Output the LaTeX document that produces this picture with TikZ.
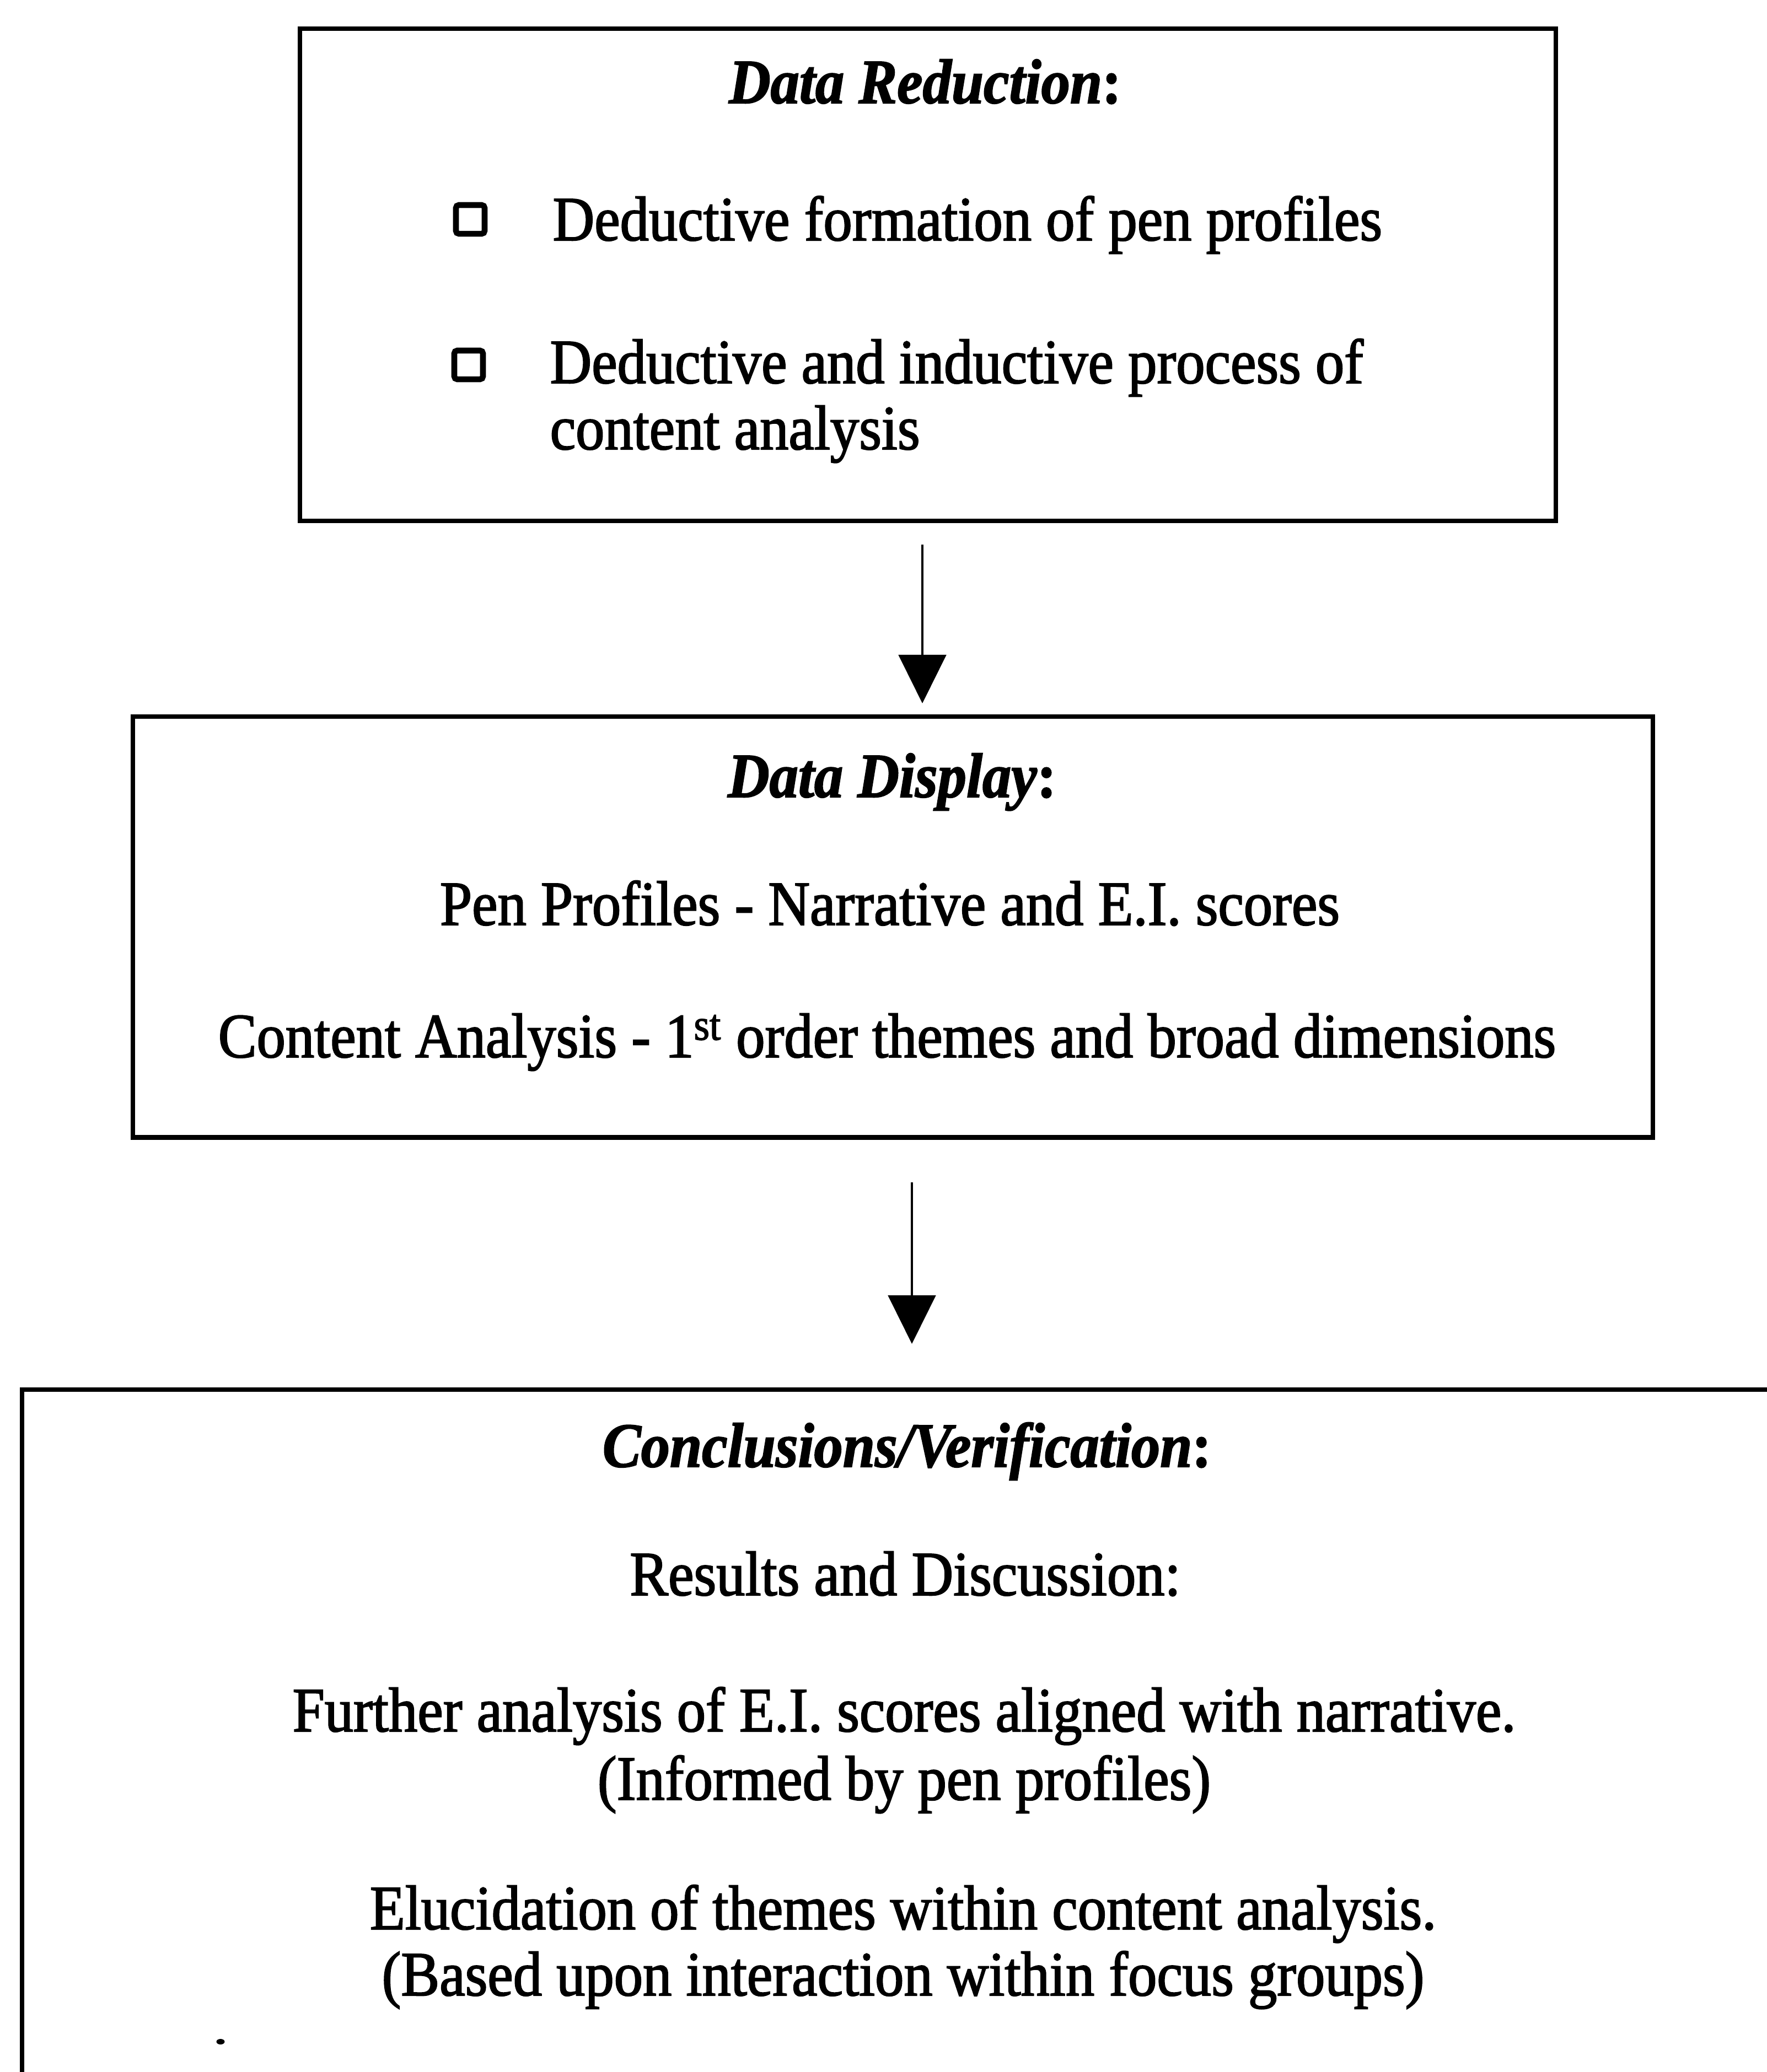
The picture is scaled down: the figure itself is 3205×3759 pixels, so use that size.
\documentclass[tikz,border=0pt]{standalone}
\usepackage{fontspec}
\setmainfont{Liberation Serif}[FakeStretch=0.915, FakeBold=1.8]
\usetikzlibrary{arrows.meta,shapes.geometric}

\tikzset{
  stagebox/.style={draw, line width=2.3pt, inner sep=0pt, anchor=north west},
  txt/.style={inner sep=0pt, anchor=base, font=\fontsize{32.5}{34}\selectfont},
  ltxt/.style={txt, anchor=base west},
  heading/.style={txt, font=\fontsize{32.5}{34}\selectfont\bfseries\itshape},
  tick/.style={draw, line width=3pt, rounded corners=1.5pt, minimum size=0.52cm, inner sep=0pt},
  flow/.style={line width=1.4pt, -{Triangle[width=0.86cm, length=0.88cm]}}
}

\begin{document}
\begin{tikzpicture}[x=0.01cm, y=-0.01cm]
\useasboundingbox (0,0) rectangle (3205,3759);
\clip (0,0) rectangle (3205,3759);
\fill[white] (0,0) rectangle (3205,3759);

% stage 1: data reduction
\node[stagebox, minimum width=22.77cm, minimum height=8.92cm] (red) at (540,48) {};
\node[heading] (redT) at (1678,187) {Data Reduction\textup{:}};
\node[tick] (sq1) at (853,398) {};
\node[ltxt] (red1) at (1002,436) {Deductive formation of pen profiles};
\node[tick] (sq2) at (850,662) {};
\node[ltxt] (red2a) at (997,695) {Deductive and inductive process of};
\node[ltxt] (red2b) at (997,815) {content analysis};

% stage 2: data display
\node[stagebox, minimum width=27.55cm, minimum height=7.63cm] (disp) at (237,1296) {};
\node[heading] (dispT) at (1618,1446) {Data Display\textup{:}};
\node[txt] (disp1) at (1614,1678) {Pen Profiles - Narrative and E.I. scores};
\node[txt] (disp2) at (1609,1918) {Content Analysis - 1\textsuperscript{st} order themes and broad dimensions};

% stage 3: conclusions (runs past the page edge)
\node[stagebox, minimum width=32.64cm, minimum height=14cm] (conc) at (36,2517) {};
\node[heading] (concT) at (1645,2661) {Conclusions/Verification\textup{:}};
\node[txt] (conc1) at (1642,2894) {Results and Discussion:};
\node[txt] (conc2a) at (1640,3141) {Further analysis of E.I. scores aligned with narrative.};
\node[txt] (conc2b) at (1640,3265) {(Informed by pen profiles)};
\node[txt] (conc3a) at (1638,3500) {Elucidation of themes within content analysis.};
\node[txt] (conc3b) at (1638,3620) {(Based upon interaction within focus groups)};
\node[ellipse, fill, inner sep=0pt, minimum width=0.15cm, minimum height=0.1cm] (speck) at (400,3704) {};

% connectors
\coordinate (f1s) at (1673,988);
\coordinate (f1e) at (1673,1276);
\coordinate (f2s) at (1654,2145);
\coordinate (f2e) at (1654,2438);
\draw[flow] (f1s) -- (f1e);
\draw[flow] (f2s) -- (f2e);
\end{tikzpicture}
\end{document}
